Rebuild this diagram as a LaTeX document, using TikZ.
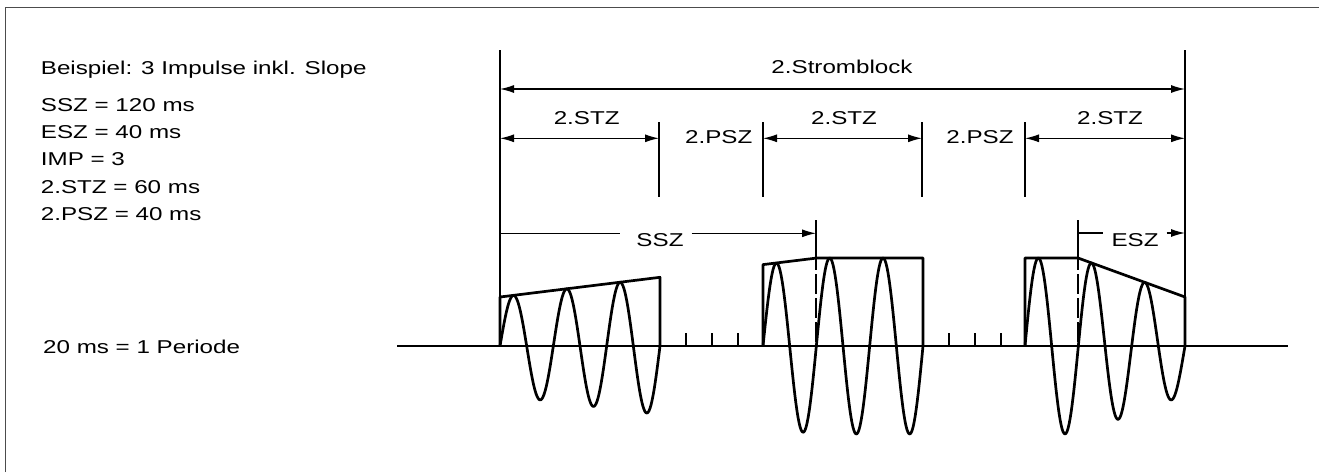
\documentclass[tikz,border=0pt]{standalone}
\usepackage{fontspec}
\setmainfont{Liberation Sans}[FakeStretch=1.3]
\usetikzlibrary{arrows.meta}
\begin{document}
\begin{tikzpicture}[x=1pt,y=-1pt,
  hair/.style={line width=1.2pt},
  wave/.style={line width=2.7pt, line join=round},
  dimboth/.style={line width=1.2pt, {Latex[length=14pt,width=8pt]}-{Latex[length=14pt,width=8pt]}},
  dimright/.style={line width=1.2pt, -{Latex[length=14pt,width=8pt]}},
  dashv/.style={line width=1.2pt, dash pattern=on 20pt off 4pt},
  lbl/.style={font=\fontsize{18.6}{22}\selectfont, inner sep=0pt, anchor=base},
  txt/.style={font=\fontsize{18.6}{22}\selectfont, inner sep=0pt, anchor=base west},
]
\useasboundingbox (0,0) rectangle (1319,472);
% frame
\draw[line width=1.5pt, black!70] (5.3,472) -- (5.3,7.5) -- (1319,7.5);

% left texts
\node[txt] (t0) at (40.7,74) {Beispiel: 3 Impulse inkl. Slope};
\node[txt] (t1) at (40.7,111) {SSZ = 120 ms};
\node[txt] (t2) at (40.7,138.3) {ESZ = 40 ms};
\node[txt] (t3) at (40.7,165.7) {IMP = 3};
\node[txt] (t4) at (40.7,193.3) {2.STZ = 60 ms};
\node[txt] (t5) at (40.7,220.7) {2.PSZ = 40 ms};
\node[txt] (t6) at (43,353) {20 ms = 1 Periode};

% reference coordinates
\coordinate (L0) at (500,50);   \coordinate (L1) at (500,346);
\coordinate (R0) at (1185,50);  \coordinate (R1) at (1185,346);
\coordinate (p1t) at (659,122); \coordinate (p1b) at (659,197);
\coordinate (p2t) at (763,122); \coordinate (p2b) at (763,197);
\coordinate (p3t) at (922,122); \coordinate (p3b) at (922,197);
\coordinate (p4t) at (1025,122);\coordinate (p4b) at (1025,197);
\coordinate (s0) at (816,220);  \coordinate (s1) at (816,250); \coordinate (s2) at (816,346);
\coordinate (e0) at (1078,220); \coordinate (e1) at (1078,250); \coordinate (e2) at (1078,346);

% vertical extension lines
\draw[hair] (L0) -- (L1);
\draw[hair] (R0) -- (R1);
\draw[hair] (p1t) -- (p1b);
\draw[hair] (p2t) -- (p2b);
\draw[hair] (p3t) -- (p3b);
\draw[hair] (p4t) -- (p4b);
\draw[hair] (s0) -- (s1);
\draw[dashv] (s1) -- (s2);
\draw[hair] (e0) -- (e1);
\draw[dashv] (e1) -- (e2);

% Stromblock
\coordinate (sbA) at (500,89); \coordinate (sbB) at (1185,89);
\draw[dimboth] (sbA) -- (sbB);
\node[lbl] (sb) at (842,73) {2.Stromblock};

% STZ / PSZ
\coordinate (z1a) at (500,138.3);  \coordinate (z1b) at (659,138.3);
\coordinate (z2a) at (763,138.3);  \coordinate (z2b) at (922,138.3);
\coordinate (z3a) at (1025,138.3); \coordinate (z3b) at (1185,138.3);
\draw[dimboth] (z1a) -- (z1b);
\draw[dimboth] (z2a) -- (z2b);
\draw[dimboth] (z3a) -- (z3b);
\node[lbl] (stz1) at (586.7,124.3) {2.STZ};
\node[lbl] (stz2) at (844,124.3) {2.STZ};
\node[lbl] (stz3) at (1110,124.3) {2.STZ};
\node[lbl] (psz1) at (718.7,143.3) {2.PSZ};
\node[lbl] (psz2) at (980,143.3) {2.PSZ};

% SSZ
\node[lbl] (ssz) at (660,246.7) {SSZ};
\coordinate (ssA) at (500,233.3); \coordinate (ssB) at (816,233.3);
\draw[hair] (ssA) -- ([xshift=-16pt]ssz.west |- ssA);
\draw[dimright] ([xshift=8pt]ssz.east |- ssB) -- (ssB);

% ESZ
\node[lbl] (esz) at (1135,246.7) {ESZ};
\coordinate (esA) at (1078,233); \coordinate (esB) at (1185,233);
\draw[hair] (esA) -- ([xshift=-8pt]esz.west |- esA);
\draw[dimright] ([xshift=8pt]esz.east |- esB) -- (esB);

% axis
\coordinate (ax0) at (397,346); \coordinate (ax1) at (1288,346);
\draw[hair] (ax0) -- (ax1);
\draw[wave] (ax0) -- (500,346);
\draw[wave] (660,346) -- (763,346);
\draw[wave] (923,346) -- (1025,346);
\draw[wave] (1185,346) -- (ax1);

% ticks
\foreach \tx in {686,712,738,949,975,1001}
  \draw[hair] (\tx,333) -- (\tx,346);

% envelopes
\draw[wave] (500,346) -- (500,297) -- (660,277.3) -- (660,346);
\draw[wave] (763,346) -- (763,264.6) -- (817,258) -- (923,258) -- (923,346);
\draw[wave] (1025,346) -- (1025,258) -- (1078,258) -- (1185,297) -- (1185,346);

% waves
\draw[wave] plot[domain=0:160, samples=161] ({500+\x},{346-(49+0.12303*\x)*sin(6.75*\x)});
\draw[wave] plot[domain=0:160, samples=161] ({763+\x},{346-min(88,81.36+0.12303*\x)*sin(6.75*\x)});
\draw[wave] plot[domain=0:160, samples=161] ({1025+\x},{346-min(88,107.32-0.36449*\x)*sin(6.75*\x)});
\end{tikzpicture}
\end{document}
